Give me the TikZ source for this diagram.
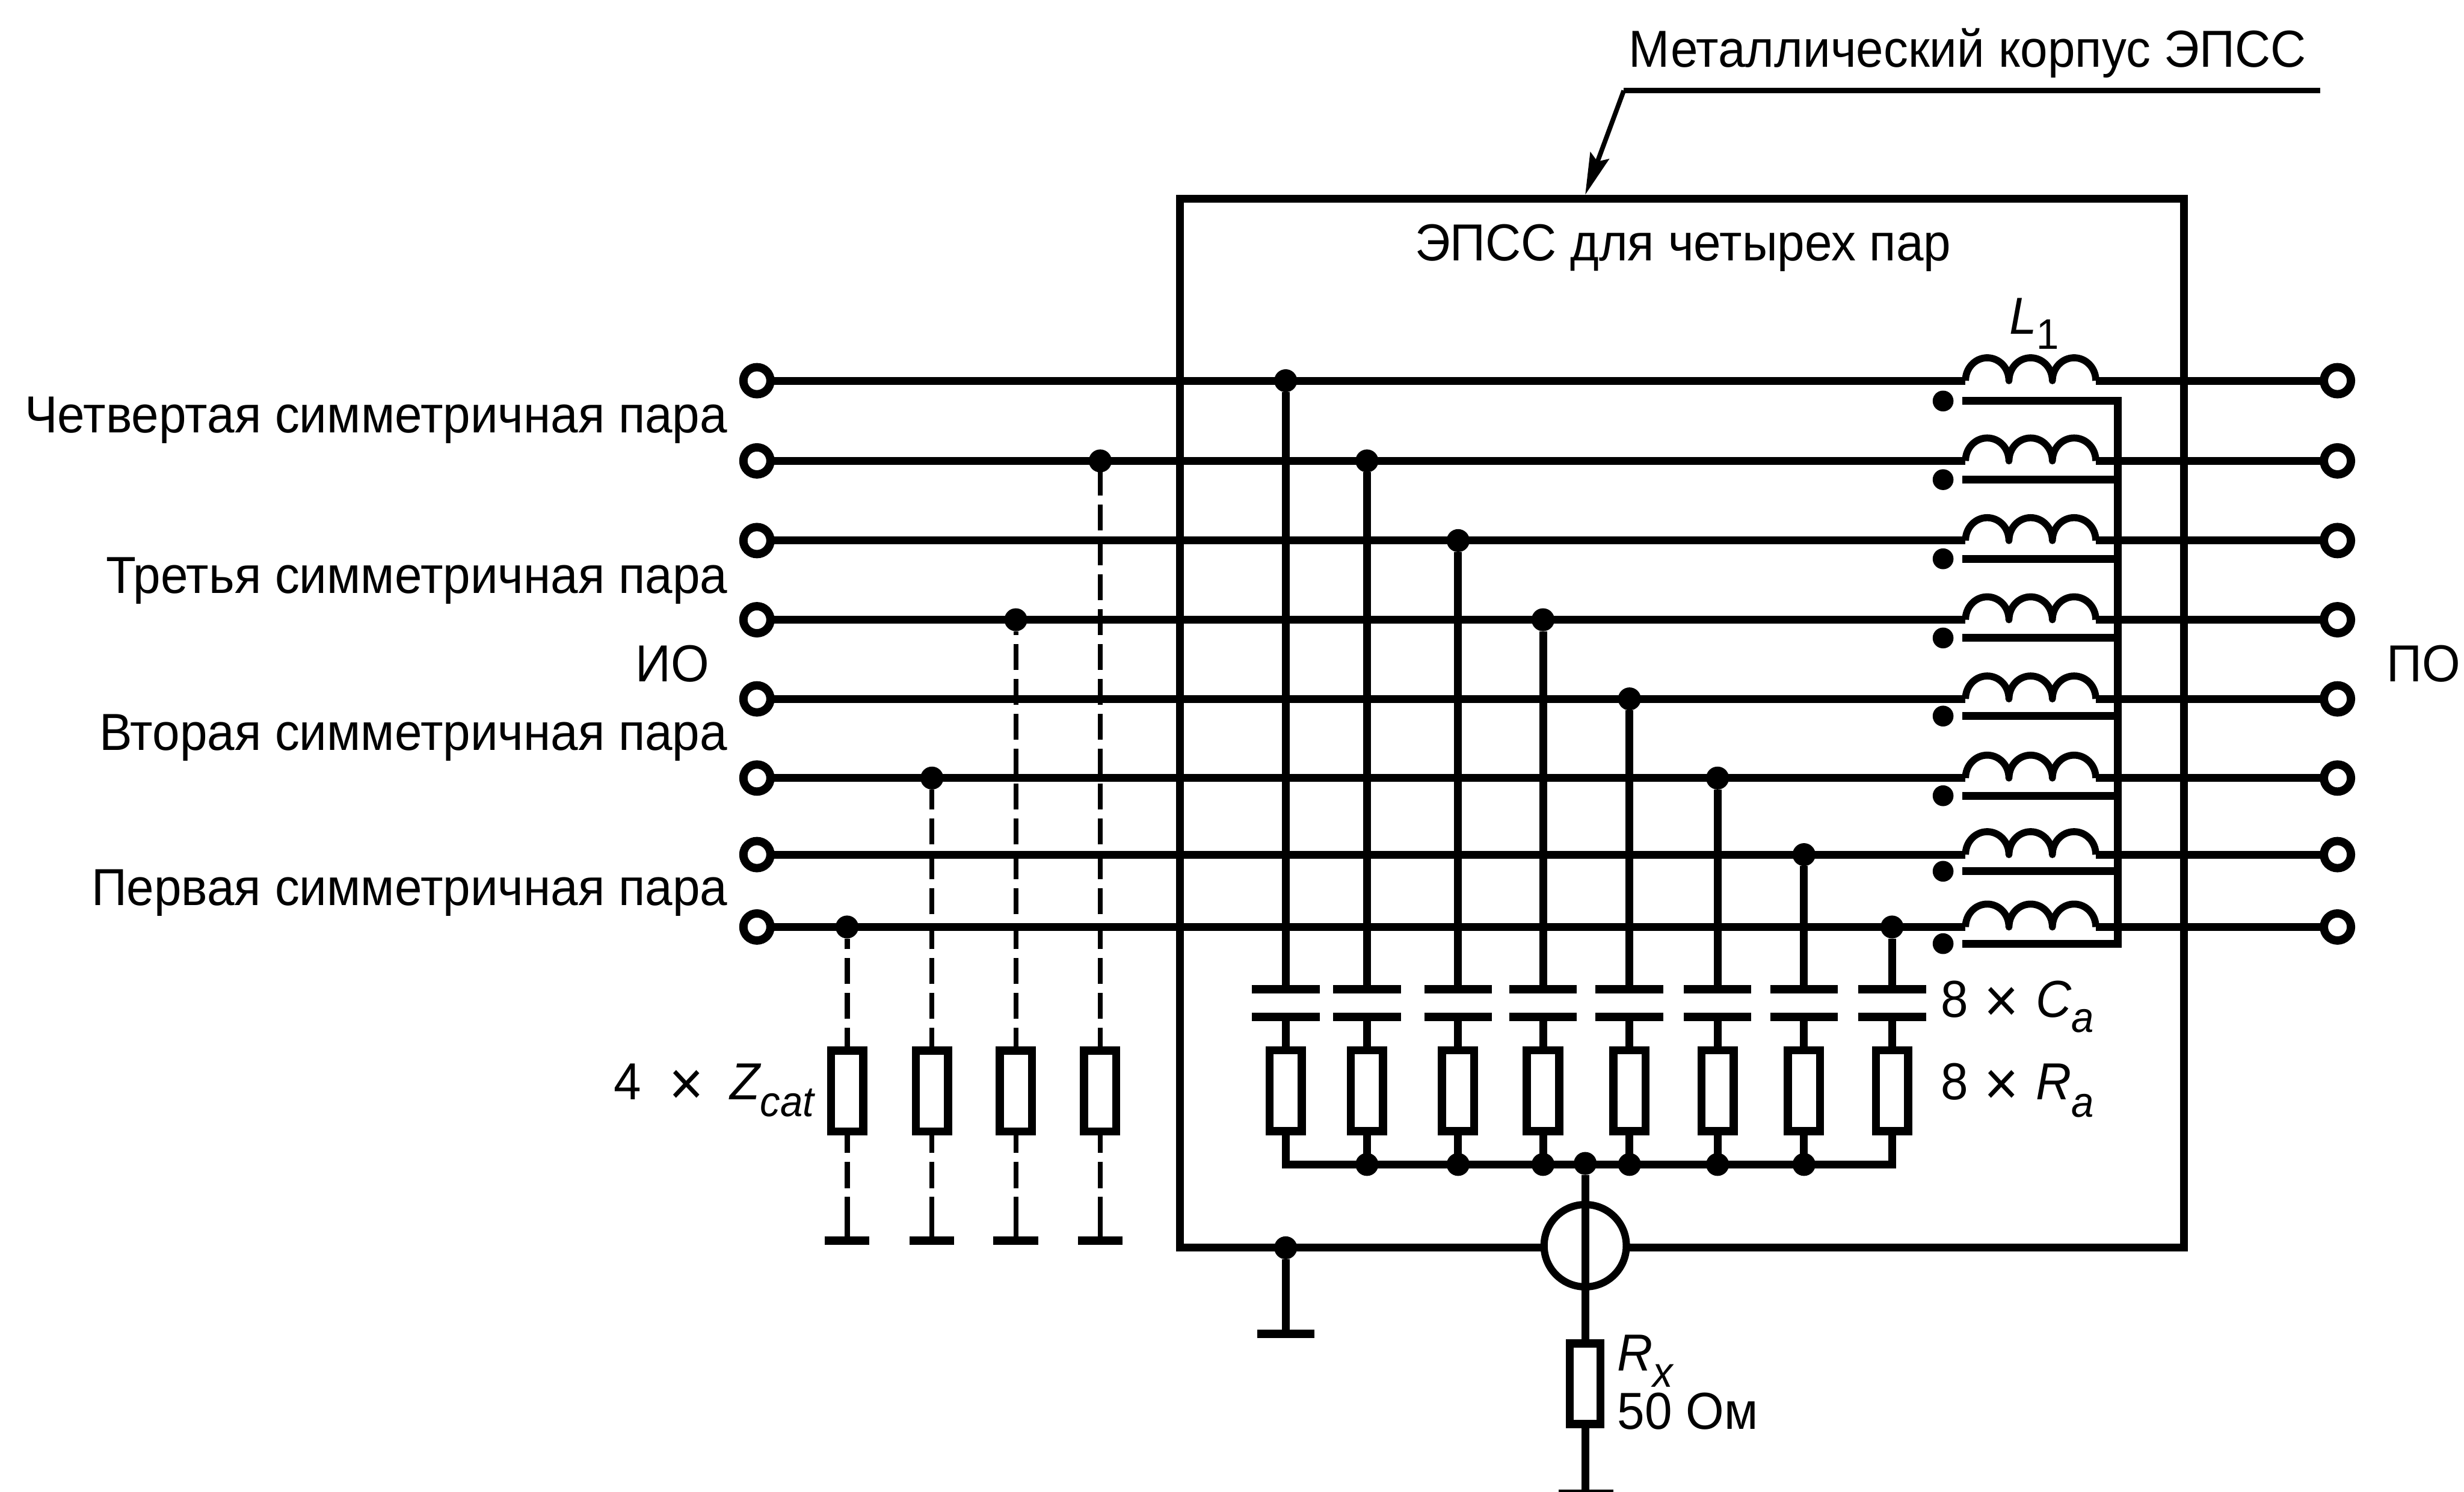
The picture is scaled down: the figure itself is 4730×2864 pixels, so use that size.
\documentclass[tikz,border=0pt]{standalone}
\usepackage{fontspec}
\setmainfont{Liberation Sans}[FakeStretch=0.945]
\usetikzlibrary{arrows.meta}
\newcommand{\isub}[3]{{\itshape #1}\raisebox{#3}{\fontsize{8.2}{8.2}\selectfont\itshape #2}}
\newcommand{\usub}[3]{{\itshape #1}\raisebox{#3}{\fontsize{8.2}{8.2}\selectfont #2}}
\newcommand{\bigx}{\raisebox{-1pt}{\fontsize{12}{12}\selectfont ×}}
\tikzset{
  x=0.1pt,y=-0.1pt,
  wire/.style={line width=1.5pt,line cap=butt},
  coilline/.style={line width=1.35pt,line join=round},
  term/.style={circle,draw,fill=white,line width=1.6pt,minimum size=5.2pt,inner sep=0pt,outer sep=0pt},
  jdot/.style={circle,fill=black,minimum size=4.4pt,inner sep=0pt,outer sep=0pt},
  cdot/.style={circle,fill=black,minimum size=4pt,inner sep=0pt,outer sep=0pt},
  resbox/.style={rectangle,draw,fill=white,line width=1.55pt,minimum width=6.2pt,minimum height=15.5pt,inner sep=0pt,outer sep=0pt},
  plate/.style={line width=1.6pt},
  dashup/.style={dash pattern=on 5pt off 1.7pt,dash phase=0.6pt},
  dashdown/.style={dash pattern=on 4.1pt off 1.7pt on 5.1pt off 1.7pt on 12pt off 0pt},
  txt/.style={inner sep=0pt,outer sep=0pt,font=\fontsize{10}{12}\selectfont,anchor=base east},
  txtw/.style={txt,anchor=base west},
}
\begin{document}
\begin{tikzpicture}
\useasboundingbox (0,0) rectangle (4730,2864);

% enclosure
\node[draw,line width=1.5pt,minimum width=192.8pt,minimum height=201.5pt,inner sep=0pt,outer sep=0pt] (box) at (3229,1388.5) {};

% wires, terminals, coils, core bars, sense dots
\foreach \i/\y/\d in {1/731/770,2/885/921,3/1038/1073,4/1190/1225,5/1342/1375,6/1494/1528,7/1641/1673,8/1780/1812}{
  \node[term] (L\i) at (1453,\y) {};
  \node[term] (P\i) at (4487,\y) {};
  \coordinate (CL\i) at (3773,\y);
  \coordinate (CR\i) at (4023,\y);
  \draw[wire] (L\i) -- (CL\i);
  \draw[wire] (CR\i) -- (P\i);
  \draw[coilline] (CL\i) arc[start angle=180,end angle=0,x radius=4.17pt,y radius=4.4pt]
                         arc[start angle=180,end angle=0,x radius=4.17pt,y radius=4.4pt]
                         arc[start angle=180,end angle=0,x radius=4.17pt,y radius=4.4pt];
  \node[cdot] (S\i) at (3730,\d) {};
  \coordinate (BA\i) at (3767,\d);
  \coordinate (BB\i) at (4065,\d);
}
\draw[wire,line join=miter] (BA1) -- (BB1) -- (BB8) -- (BA8);
\foreach \i in {2,...,7}{\draw[wire] (BA\i) -- (BB\i);}

% shunt branches inside the enclosure
\coordinate (BUSL) at (2468,2236);
\coordinate (BUSR) at (3632,2236);
\foreach \i/\x in {1/2468,2/2624,3/2799,4/2962,5/3128,6/3297,7/3463,8/3632}{
  \coordinate (T\i) at (\x,1900);
  \coordinate (B\i) at (\x,1953);
  \coordinate (TL\i) at (\x-65,1900);
  \coordinate (TR\i) at (\x+65,1900);
  \coordinate (BL\i) at (\x-65,1953);
  \coordinate (BR\i) at (\x+65,1953);
  \coordinate (W\i) at (\x,2236);
  \node[jdot] (D\i) at (CL\i-|T\i) {};
  \node[resbox] (R\i) at (\x,2094.5) {};
  \draw[wire] (D\i) -- (T\i);
  \draw[plate] (TL\i) -- (TR\i);
  \draw[plate] (BL\i) -- (BR\i);
  \draw[wire] (B\i) -- (R\i.north);
  \draw[wire] (R\i.south) -- (W\i);
}
\draw[wire,line cap=rect] (BUSL) -- (BUSR);
\foreach \i/\x in {2/2624,3/2799,4/2962,6/3297,7/3463,5/3128}{\node[jdot] (J\i) at (\x,2236) {};}

% sense loop, screen ground, Rx
\node[circle,draw,fill=white,line width=1.4pt,minimum size=15.8pt,inner sep=0pt,outer sep=0pt] (M) at (3043,2392) {};
\node[jdot] (JM) at (3043,2234) {};
\node[resbox,minimum width=5.9pt,minimum height=15.5pt] (RX) at (3043,2657) {};
\coordinate (GX) at (3043,2868);
\coordinate (GXL) at (2992,2868);
\coordinate (GXR) at (3097,2868);
\draw[wire] (JM) -- (RX.north);
\draw[wire] (RX.south) -- (GX);
\draw[plate] (GXL) -- (GXR);
\node[jdot] (JG) at (2468,2396) {};
\coordinate (GB) at (2468,2561);
\coordinate (GBL) at (2413,2561);
\coordinate (GBR) at (2523,2561);
\draw[wire] (JG) -- (GB);
\draw[plate] (GBL) -- (GBR);

% external terminations
\foreach \i/\x/\r/\w in {1/1626/8/1.05pt,2/1789/6/0.95pt,3/1950/4/0.95pt,4/2112/2/0.95pt}{
  \coordinate (X\i) at (\x,0);
  \node[jdot] (E\i) at (L\r-|X\i) {};
  \node[resbox] (Z\i) at (\x,2095) {};
  \coordinate (EG\i) at (\x,2382);
  \coordinate (EGL\i) at (\x-43,2382);
  \coordinate (EGR\i) at (\x+43,2382);
  \draw[line width=\w,dashup] (Z\i.north) -- (E\i);
  \draw[line width=\w,dashdown] (Z\i.south) -- (EG\i);
  \draw[plate] (EGL\i) -- (EGR\i);
}

% leader
\coordinate (LA) at (4454,174);
\coordinate (LB) at (3117,174);
\coordinate (LC) at (3043,374);
\draw[line width=1.1pt] (LA) -- (LB);
\draw[line width=0.9pt,-{Stealth[length=8pt,width=3.8pt,inset=1.2pt]}] (LB) -- (LC);

% texts
\node[txt] (t1) at (4427,129) {Металлический корпус ЭПСС};
\node[txt] (t2) at (3745,500) {ЭПСС для четырех пар};
\node[txt] (t3) at (1396,831) {Четвертая симметричная пара};
\node[txt] (t4) at (1396,1139) {Третья симметричная пара};
\node[txt] (t5) at (1396,1440) {Вторая симметричная пара};
\node[txt] (t6) at (1396,1739) {Первая симметричная пара};
\node[txt] (t7) at (1362,1309) {ИО};
\node[txtw] (t8) at (4582,1309) {ПО};
\node[txtw] (t9) at (3857,641) {\usub{L}{1}{-2.9pt}};
\node[txtw] (t10) at (3726,1953) {8\hspace{3pt}\bigx\hspace{3.4pt}\isub{C}{a}{-2.9pt}};
\node[txtw] (t11) at (3726,2112) {8\hspace{3pt}\bigx\hspace{3.4pt}\isub{R}{a}{-3.3pt}};
\node[txtw] (t12) at (1178,2112) {4\hspace{5.4pt}\bigx\hspace{5.1pt}\isub{Z}{cat}{-3.2pt}};
\node[txtw] (t13) at (3105,2632) {\isub{R}{x}{-3.1pt}};
\node[txtw] (t14) at (3105,2744) {50 Ом};
\end{tikzpicture}
\end{document}
